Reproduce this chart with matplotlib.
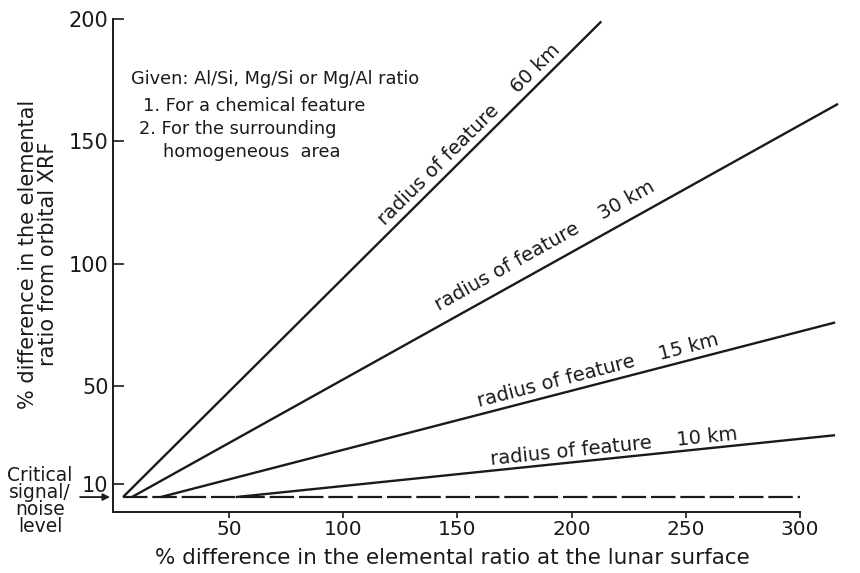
import numpy as np
import matplotlib
matplotlib.use("Agg")
import matplotlib.pyplot as plt

# ---- data ----
radii_km = [60, 30, 15, 10]
line_x = [[3.5, 213.0], [7.4, 316.7], [20.0, 315.4], [53.0, 315.4]]
line_y = [[4.5, 199.0], [4.5, 165.3], [4.5, 75.9], [4.5, 29.8]]
label_pos = [(155.0, 152.6), (188.3, 107.3), (211.3, 56.3), (218.6, 25.1)]
sn_level = 4.5
sn_x = [3.5, 300.0]
xticks = [50, 100, 150, 200, 250, 300]
yticks = [10, 50, 100, 150, 200]

FONT = ["DejaVu Sans"]
plt.rcParams["font.family"] = FONT
INK = "#1a1a1a"

W, H = 860, 573
fig = plt.figure(figsize=(W / 100, H / 100), dpi=100)
left_px, right_px, top_px, bot_px = 112.7, 845.6, 19.0, 511.5
ax = fig.add_axes([left_px / W, 1 - bot_px / H, (right_px - left_px) / W, (bot_px - top_px) / H])
ax.set_xlim(-1, 320)
ax.set_ylim(-1.4, 200)

for s in ["top", "right"]:
    ax.spines[s].set_visible(False)
ax.spines["bottom"].set_bounds(-1, 300)
ax.spines["left"].set_bounds(-1.4, 200)
for s in ["bottom", "left"]:
    ax.spines[s].set_linewidth(1.4)
    ax.spines[s].set_color(INK)

ax.set_xticks(xticks)
ax.set_xticklabels([str(v) for v in xticks])
ax.set_yticks(yticks)
ax.set_yticklabels([str(v) for v in yticks])
ax.tick_params(axis="x", direction="out", length=4, width=1.2, colors=INK, labelsize=14.5, pad=2)
ax.tick_params(axis="y", direction="in", length=8, width=1.2, colors=INK, labelsize=15, pad=3)

# lines
for xs, ys in zip(line_x, line_y):
    ax.plot(xs, ys, color=INK, lw=1.7, solid_capstyle="butt", clip_on=False)

# dashed S/N line
ax.plot(sn_x, [sn_level, sn_level], color=INK, lw=1.6, dashes=(11, 2.2), clip_on=False)

# line labels
for r, xs, ys, (tx, ty) in zip(radii_km, line_x, line_y, label_pos):
    p0 = ax.transData.transform((xs[0], ys[0]))
    p1 = ax.transData.transform((xs[1], ys[1]))
    ang = np.degrees(np.arctan2(p1[1] - p0[1], p1[0] - p0[0]))
    ax.text(tx, ty, f"radius of feature    {r} km", rotation=ang, rotation_mode="anchor",
            ha="center", va="center", fontsize=14, color=INK)

# axis labels
fig.text(452 / W, 1 - 558 / H, "% difference in the elemental ratio at the lunar surface",
         ha="center", va="center", fontsize=15.5, color=INK)
fig.text(38 / W, 1 - 254 / H, "% difference in the elemental\nratio from orbital XRF",
         ha="center", va="center", rotation=90, fontsize=15, color=INK, linespacing=1.05)

# annotation block
fig.text(131 / W, 1 - 79 / H, "Given: Al/Si, Mg/Si or Mg/Al ratio", ha="left", va="center", fontsize=12.8, color=INK)
fig.text(143 / W, 1 - 106 / H, "1. For a chemical feature", ha="left", va="center", fontsize=12.8, color=INK)
fig.text(139 / W, 1 - 129 / H, "2. For the surrounding", ha="left", va="center", fontsize=12.8, color=INK)
fig.text(163 / W, 1 - 152 / H, "homogeneous  area", ha="left", va="center", fontsize=12.8, color=INK)

# critical S/N label and arrow
fig.text(40 / W, 1 - 501 / H, "Critical\nsignal/\nnoise\nlevel", ha="center", va="center",
         fontsize=13.5, color=INK, linespacing=0.85)
ax.annotate("", xy=(-1, sn_level), xytext=(-16.5, sn_level),
            arrowprops=dict(arrowstyle="-|>", color=INK, lw=1.3, mutation_scale=10),
            annotation_clip=False)

fig.savefig("out.png", dpi=100, facecolor="white")
